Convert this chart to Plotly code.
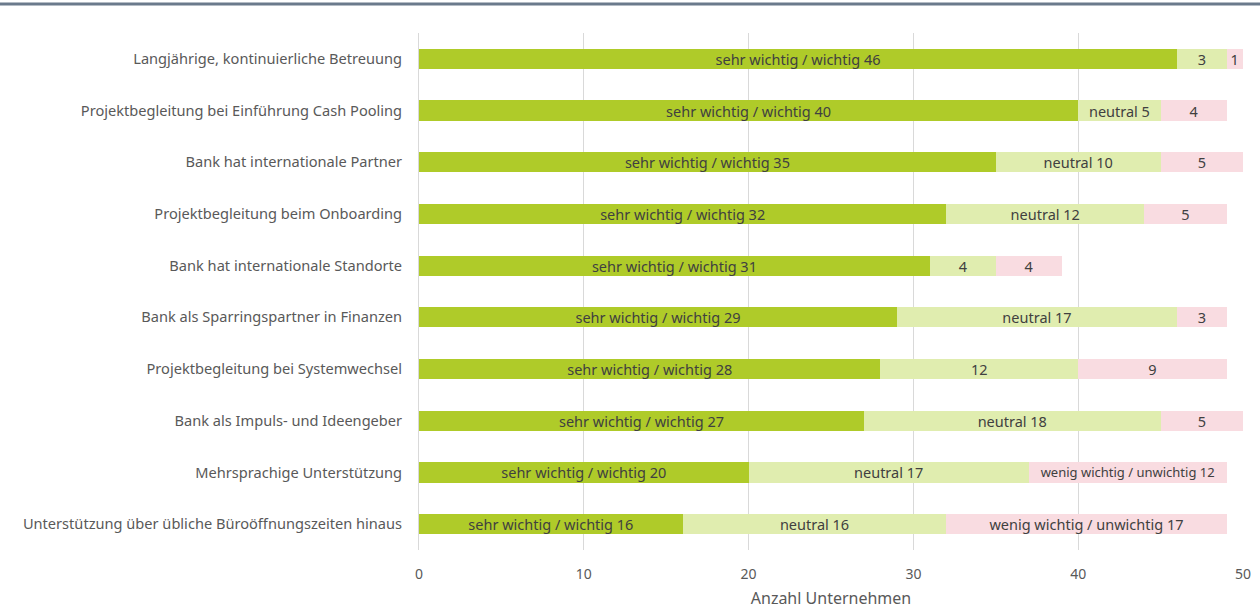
import plotly.graph_objects as go

# Survey items (top to bottom)
categories = [
    "Langjährige, kontinuierliche Betreuung",
    "Projektbegleitung bei Einführung Cash Pooling",
    "Bank hat internationale Partner",
    "Projektbegleitung beim Onboarding",
    "Bank hat internationale Standorte",
    "Bank als Sparringspartner in Finanzen",
    "Projektbegleitung bei Systemwechsel",
    "Bank als Impuls- und Ideengeber",
    "Mehrsprachige Unterstützung",
    "Unterstützung über übliche Büroöffnungszeiten hinaus",
]
wichtig = [46, 40, 35, 32, 31, 29, 28, 27, 20, 16]
neutral = [3, 5, 10, 12, 4, 17, 12, 18, 17, 16]
unwichtig = [1, 4, 5, 5, 4, 3, 9, 5, 12, 17]

# Which bars carry the series name in their label
neutral_named = [False, True, True, True, False, True, False, True, True, True]
unwichtig_named = [False] * 8 + [True, True]

FONT = "Noto Sans"
TEXT_COLOR = "#404040"


def labels(prefix, values, named):
    return [f"{prefix} {v}" if n else str(v) for v, n in zip(values, named)]


series = [
    ("sehr wichtig / wichtig", wichtig, [True] * 10, "#AFCB29", [14.5] * 10),
    ("neutral", neutral, neutral_named, "#E0EDAF", [14.5] * 10),
    ("wenig wichtig / unwichtig", unwichtig, unwichtig_named, "#F9DCE1", [14.5] * 8 + [13, 14.5]),
]

fig = go.Figure()
for name, vals, named, color, sizes in series:
    fig.add_trace(go.Bar(
        name=name,
        y=categories,
        x=vals,
        orientation="h",
        marker=dict(color=color, line=dict(width=0)),
        text=labels(name, vals, named),
        textposition="inside",
        insidetextanchor="middle",
        constraintext="none",
        textangle=0,
        textfont=dict(family=FONT, size=sizes, color=TEXT_COLOR),
        hoverinfo="skip",
    ))

fig.update_layout(
    barmode="stack",
    bargap=0.61,
    width=1260,
    height=609,
    margin=dict(l=419, r=17, t=33, b=59),
    paper_bgcolor="white",
    plot_bgcolor="white",
    showlegend=False,
    font=dict(family=FONT, color="#595959"),
    xaxis=dict(
        range=[0, 50],
        dtick=10,
        automargin=False,
        showgrid=True,
        gridcolor="#D9D9D9",
        gridwidth=1,
        zeroline=False,
        showline=False,
        tickfont=dict(size=14, color="#595959"),
        ticks="",
        ticklabelstandoff=14,
        title=dict(text="Anzahl Unternehmen", font=dict(size=16, color="#595959"), standoff=14),
    ),
    yaxis=dict(
        autorange="reversed",
        automargin=False,
        showgrid=False,
        zeroline=False,
        showline=True,
        linecolor="#D9D9D9",
        linewidth=1,
        ticks="",
        ticklabelstandoff=13,
        tickfont=dict(size=14.6, color="#595959"),
    ),
)

# Rule across the top of the page
fig.add_shape(
    type="line", xref="paper", yref="paper",
    x0=-419 / 824, x1=1 + 17 / 824, y0=1 + 29 / 517, y1=1 + 29 / 517,
    line=dict(color="#6B7A8C", width=3),
)

fig.write_html("out.html")
